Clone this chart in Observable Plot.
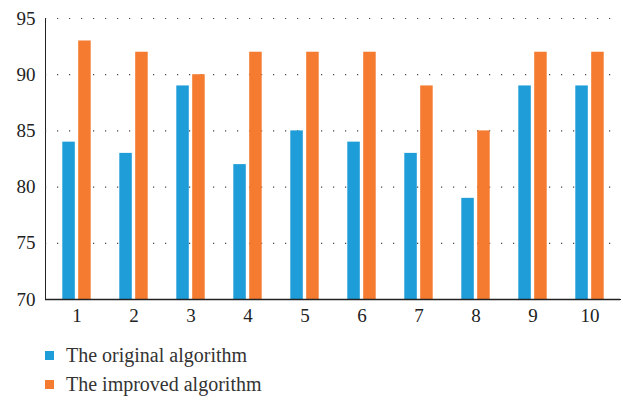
<!DOCTYPE html>
<html><head><meta charset="utf-8">
<script src="https://cdn.jsdelivr.net/npm/d3@7"></script>
<script src="https://cdn.jsdelivr.net/npm/@observablehq/plot@0.6"></script>
<style>
body{margin:0;background:#fff;font-family:'Liberation Serif',serif;}
svg text{font-family:'Liberation Serif',serif !important;}
#legend{margin-left:45px;margin-top:15px;font-size:20px;color:#333;font-family:'Liberation Serif',serif;}
#legend div{display:flex;align-items:center;height:29px;}
#legend span.sw{display:inline-block;width:9px;height:9px;margin-right:12px;}
</style></head>
<body><div id="chart"></div><div id="legend"></div>
<script>
const categories = ["1","2","3","4","5","6","7","8","9","10"];
const originalValues = [84,83,89,82,85,84,83,79,89,89];
const improvedValues = [93,92,90,92,92,92,89,85,92,92];
const seriesNames = ["The original algorithm","The improved algorithm"];
const seriesColors = ["#1e9dd8","#f47b30"];
const yTicks = [70,75,80,85,90,95];

const orig = categories.map((c,i)=>({cat:c, v:originalValues[i]}));
const impr = categories.map((c,i)=>({cat:c, v:improvedValues[i]}));

const chart = Plot.plot({
  width: 623, height: 326,
  marginLeft: 45, marginRight: 3, marginTop: 18, marginBottom: 27,
  style: {fontFamily: "'Liberation Serif',serif", fontSize: "19px", color: "#222"},
  x: {domain: categories, padding: 0, label: null, tickSize: 0, tickPadding: 9, line: true},
  y: {domain: [70,95], ticks: yTicks, label: null, tickSize: 0, tickPadding: 10, line: true},
  marks: [
    Plot.gridY(yTicks.slice(1), {stroke: "#333", strokeOpacity: 0.9, strokeDasharray: "1.2,10.8", strokeWidth: 1.2}),
    Plot.barY(orig, {x: "cat", y1: 70, y2: "v", fill: seriesColors[0], insetLeft: 14.3, insetRight: 30.2}),
    Plot.barY(impr, {x: "cat", y1: 70, y2: "v", fill: seriesColors[1], insetLeft: 30.2, insetRight: 14.3}),
    Plot.ruleY([70], {stroke: "#222", strokeWidth: 1.5})
  ]
});
document.getElementById("chart").appendChild(chart);

const leg = document.getElementById("legend");
seriesNames.forEach((n,i)=>{
  const d = document.createElement("div");
  d.innerHTML = `<span class="sw" style="background:${seriesColors[i]}"></span>${n}`;
  leg.appendChild(d);
});
</script></body></html>
